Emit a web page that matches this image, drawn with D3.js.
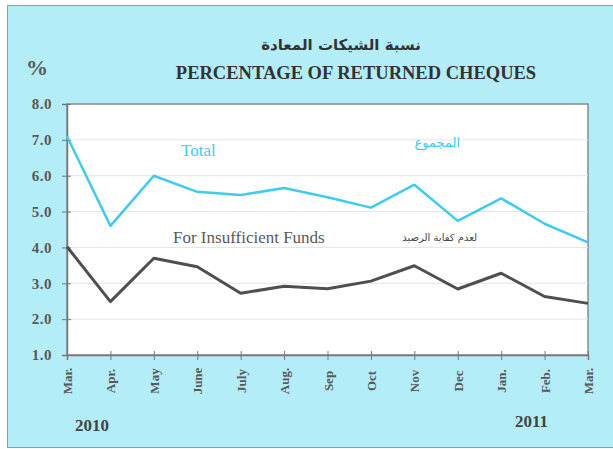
<!DOCTYPE html>
<html>
<head>
<meta charset="utf-8">
<script src="https://cdn.jsdelivr.net/npm/d3@7"></script>
<style>
    body { margin: 0; background: #fff; }
    svg { display: block; }
</style>
</head>
<body>
<div id="chart"></div>
<script>
// Months, March 2010 to March 2011.
const months = ["Mar.", "Apr.", "May", "June", "July", "Aug.", "Sep", "Oct", "Nov", "Dec", "Jan.", "Feb.", "Mar."];
const totalValues = [7.1, 4.6, 6.0, 5.55, 5.46, 5.66, 5.4, 5.11, 5.75, 4.74, 5.37, 4.66, 4.14];
const insufficientValues = [4.02, 2.49, 3.7, 3.46, 2.72, 2.92, 2.85, 3.06, 3.49, 2.84, 3.28, 2.63, 2.44];
const yTicks = [1, 2, 3, 4, 5, 6, 7, 8];
const years = ["2010", "2011"];

const width = 613;
const height = 449;
const marginLeft = 67;
const marginRight = 25;
const marginTop = 104;
const marginBottom = 94;

const serif = "'Liberation Serif', 'DejaVu Serif', serif";
const arabic = "'DejaVu Sans', 'Noto Sans', sans-serif";
const cyan = "#3fcbf0";
const gray = "#595959";

const svg = d3.select("#chart")
    .append("svg")
    .attr("width", width)
    .attr("height", height)
    .attr("viewBox", [0, 0, width, height]);

// Light blue panel with its border.
svg.append("rect")
    .attr("x", 7.5)
    .attr("y", 5.5)
    .attr("width", width)
    .attr("height", height - 7)
    .attr("fill", "#b3edf8")
    .attr("stroke", "#9a9a9a");

const x = d3.scalePoint()
    .domain(d3.range(months.length))
    .range([marginLeft, width - marginRight]);

const y = d3.scaleLinear()
    .domain([1, 8])
    .range([height - marginBottom, marginTop]);

// Plot area.
svg.append("rect")
    .attr("x", marginLeft)
    .attr("y", marginTop)
    .attr("width", width - marginRight - marginLeft)
    .attr("height", height - marginBottom - marginTop)
    .attr("fill", "#fff")
    .attr("stroke", "#8a8a8a")
    .attr("stroke-width", 1.5);

// Faint horizontal grid lines.
svg.append("g")
    .attr("stroke", "#e4e4e4")
    .selectAll("line")
    .data(yTicks.slice(1, -1))
    .join("line")
        .attr("x1", marginLeft)
        .attr("x2", width - marginRight)
        .attr("y1", d => y(d))
        .attr("y2", d => y(d));

// Y axis.
svg.append("g")
    .attr("transform", `translate(${marginLeft},0)`)
    .call(d3.axisLeft(y).tickValues(yTicks).tickFormat(d3.format(".1f")).tickSize(5).tickPadding(10))
    .call(g => g.select(".domain").attr("stroke", "#777").attr("stroke-width", 1.5))
    .call(g => g.selectAll(".tick line").attr("stroke", "#777").attr("x2", 4).attr("x1", -5))
    .call(g => g.selectAll(".tick text")
        .attr("font-family", serif)
        .attr("font-weight", "bold")
        .attr("font-size", 15)
        .attr("letter-spacing", 0.5)
        .attr("fill", gray));

// X axis with rotated month labels.
svg.append("g")
    .attr("transform", `translate(0,${height - marginBottom})`)
    .call(d3.axisBottom(x).tickFormat(i => months[i]).tickSize(5))
    .call(g => g.select(".domain").attr("stroke", "#777").attr("stroke-width", 1.5))
    .call(g => g.selectAll(".tick line").attr("stroke", "#777").attr("y1", -4).attr("y2", 5))
    .call(g => g.selectAll(".tick text")
        .attr("font-family", serif)
        .attr("font-weight", "bold")
        .attr("font-size", 13)
        .attr("fill", gray)
        .attr("text-anchor", "middle")
        .attr("dy", "0.35em")
        .attr("transform", "translate(0,26) rotate(-90)")
        .attr("y", 0));

const line = d3.line()
    .x((d, i) => x(i))
    .y(d => y(d));

svg.append("path")
    .datum(insufficientValues)
    .attr("fill", "none")
    .attr("stroke", "#4f4f4f")
    .attr("stroke-width", 3)
    .attr("stroke-linejoin", "round")
    .attr("d", line);

svg.append("path")
    .datum(totalValues)
    .attr("fill", "none")
    .attr("stroke", cyan)
    .attr("stroke-width", 2.5)
    .attr("stroke-linejoin", "round")
    .attr("d", line);

// Titles.
svg.append("text")
    .attr("x", 341)
    .attr("y", 50)
    .attr("text-anchor", "middle")
    .attr("direction", "rtl")
    .attr("font-family", arabic)
    .attr("font-weight", "bold")
    .attr("font-size", 15)
    .attr("fill", "#333")
    .text("نسبة الشيكات المعادة");

svg.append("text")
    .attr("x", 356)
    .attr("y", 79)
    .attr("text-anchor", "middle")
    .attr("font-family", serif)
    .attr("font-weight", "bold")
    .attr("font-size", 18.5)
    .attr("fill", "#333")
    .text("PERCENTAGE OF RETURNED CHEQUES");

svg.append("text")
    .attr("x", 26)
    .attr("y", 75)
    .attr("font-family", serif)
    .attr("font-weight", "bold")
    .attr("font-size", 22)
    .attr("fill", gray)
    .text("%");

// Series labels.
svg.append("text")
    .attr("x", 181)
    .attr("y", 156)
    .attr("font-family", serif)
    .attr("font-size", 17)
    .attr("fill", cyan)
    .text("Total");

svg.append("text")
    .attr("x", 460)
    .attr("y", 147)
    .attr("text-anchor", "start")
    .attr("direction", "rtl")
    .attr("font-family", arabic)
    .attr("font-size", 13)
    .attr("fill", cyan)
    .text("المجموع");

svg.append("text")
    .attr("x", 173)
    .attr("y", 243)
    .attr("font-family", serif)
    .attr("font-size", 17)
    .attr("fill", gray)
    .text("For Insufficient Funds");

svg.append("text")
    .attr("x", 477)
    .attr("y", 241)
    .attr("text-anchor", "start")
    .attr("direction", "rtl")
    .attr("font-family", arabic)
    .attr("font-size", 10)
    .attr("fill", "#444")
    .text("لعدم كفاية الرصيد");

// Year labels.
svg.append("g")
    .attr("font-family", serif)
    .attr("font-weight", "bold")
    .attr("font-size", 17)
    .attr("fill", "#444")
    .selectAll("text")
    .data(years)
    .join("text")
        .attr("x", (d, i) => i === 0 ? 75 : 515)
        .attr("y", (d, i) => i === 0 ? 431 : 427)
        .text(d => d);
</script>
</body>
</html>
